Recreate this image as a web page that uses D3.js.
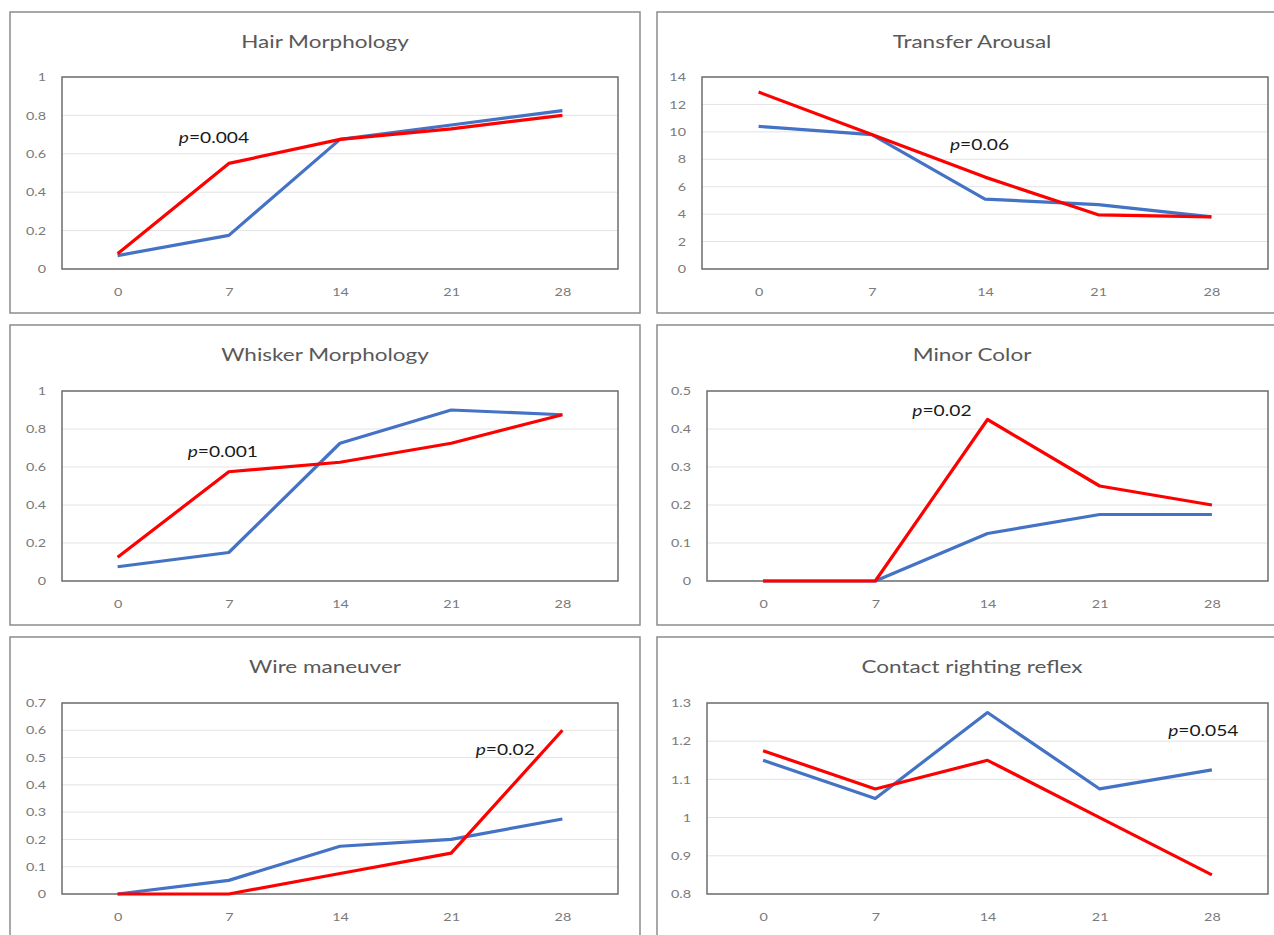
<!DOCTYPE html>
<html><head><meta charset="utf-8">
<script src="https://cdn.jsdelivr.net/npm/d3@7"></script>
<style>body{margin:0;background:#fff;overflow:hidden}</style>
</head><body>
<svg id="c" width="1274" height="935"></svg>
<script>
// ---- data ----
const days = ["0", "7", "14", "21", "28"];

const titles = ["Hair Morphology", "Transfer Arousal", "Whisker Morphology", "Minor Color", "Wire maneuver", "Contact righting reflex"];
const pLabels = ["0.004", "0.06", "0.001", "0.02", "0.02", "0.054"];

const hairRed   = [0.08, 0.55, 0.675, 0.73, 0.80];
const hairBlue  = [0.07, 0.175, 0.675, 0.75, 0.825];
const transRed  = [12.9, 9.8, 6.7, 3.95, 3.8];
const transBlue = [10.4, 9.8, 5.1, 4.7, 3.8];
const whiskRed  = [0.125, 0.575, 0.625, 0.725, 0.875];
const whiskBlue = [0.075, 0.15, 0.725, 0.9, 0.875];
const minorRed  = [0, 0, 0.425, 0.25, 0.2];
const minorBlue = [0, 0, 0.125, 0.175, 0.175];
const wireRed   = [0, 0, 0.075, 0.15, 0.6];
const wireBlue  = [0, 0.05, 0.175, 0.2, 0.275];
const crrRed    = [1.175, 1.075, 1.15, 1.0, 0.85];
const crrBlue   = [1.15, 1.05, 1.275, 1.075, 1.125];

const hairTicks  = [0, 0.2, 0.4, 0.6, 0.8, 1];
const transTicks = [0, 2, 4, 6, 8, 10, 12, 14];
const whiskTicks = [0, 0.2, 0.4, 0.6, 0.8, 1];
const minorTicks = [0, 0.1, 0.2, 0.3, 0.4, 0.5];
const wireTicks  = [0, 0.1, 0.2, 0.3, 0.4, 0.5, 0.6, 0.7];
const crrTicks   = [0.8, 0.9, 1, 1.1, 1.2, 1.3];

// ---- layout (positions only) ----
const layout = [
  {fx: 10, fy: 12, fw: 630, fh: 301, px: 62, py: 77, pw: 556, ph: 192, ax: 0.55, ay: 0.655},
  {fx: 657, fy: 12, fw: 640, fh: 301, px: 702, py: 77, pw: 566, ph: 192, ax: 1.69, ay: 8.7},
  {fx: 10, fy: 325, fw: 630, fh: 300, px: 62, py: 391, pw: 556, ph: 190, ax: 0.63, ay: 0.655},
  {fx: 657, fy: 325, fw: 640, fh: 300, px: 707, py: 391, pw: 561, ph: 190, ax: 1.33, ay: 0.434},
  {fx: 10, fy: 637, fw: 630, fh: 320, px: 62, py: 703, pw: 556, ph: 191, ax: 3.22, ay: 0.51},
  {fx: 657, fy: 637, fw: 640, fh: 320, px: 707, py: 703, pw: 561, ph: 191, ax: 3.61, ay: 1.213}
];

const series = [
  [hairRed, hairBlue, hairTicks],
  [transRed, transBlue, transTicks],
  [whiskRed, whiskBlue, whiskTicks],
  [minorRed, minorBlue, minorTicks],
  [wireRed, wireBlue, wireTicks],
  [crrRed, crrBlue, crrTicks]
];

const svg = d3.select("#c");
const FONT = "Lato, 'Open Sans', sans-serif";

// horizontally widen text (reference glyphs are wide)
function stretch(sel, sx) {
  sel.each(function () {
    const t = d3.select(this);
    const x = +t.attr("x") || 0, y = +t.attr("y") || 0;
    const prev = t.attr("transform") || "";
    t.attr("x", 0).attr("y", 0).attr("transform", `${prev} translate(${x},${y}) scale(${sx},1)`);
  });
}

series.forEach(([red, blue, ticks], i) => {
  const L = layout[i];
  const g = svg.append("g");
  g.append("rect").attr("x", L.fx).attr("y", L.fy).attr("width", L.fw).attr("height", L.fh)
    .attr("fill", "#fff").attr("stroke", "#8c8c8c").attr("stroke-width", 1.5);

  const title = g.append("text").attr("x", L.fx + L.fw / 2 - (i % 2 ? 5 : 0)).attr("y", L.fy + 36)
    .attr("text-anchor", "middle").attr("font-family", FONT).attr("font-size", 18)
    .attr("fill", "#595959").text(titles[i]);
  stretch(title, 1.25);

  const x = d3.scalePoint().domain(days).range([L.px, L.px + L.pw]).padding(0.5);
  const y = d3.scaleLinear().domain(d3.extent(ticks)).range([L.py + L.ph, L.py]);

  // gridlines
  g.append("g").selectAll("line").data(ticks).join("line")
    .attr("x1", L.px).attr("x2", L.px + L.pw)
    .attr("y1", d => y(d)).attr("y2", d => y(d))
    .attr("stroke", "#e3e3e3").attr("stroke-width", 1);

  // plot frame
  g.append("rect").attr("x", L.px).attr("y", L.py).attr("width", L.pw).attr("height", L.ph)
    .attr("fill", "none").attr("stroke", "#6e6e6e").attr("stroke-width", 1.5);

  // y axis labels
  const yAxis = d3.axisLeft(y).tickValues(ticks).tickSize(0).tickPadding(16).tickFormat(d => String(+d.toFixed(2)));
  const ya = g.append("g").attr("transform", `translate(${L.px},0)`).call(yAxis);
  ya.select(".domain").remove();
  ya.selectAll("text").attr("font-family", FONT).attr("font-size", 11.5).attr("fill", "#7a7a7a");
  stretch(ya.selectAll("text"), 1.25);

  // x axis labels
  const xAxis = d3.axisBottom(x).tickSize(0).tickPadding(19);
  const xa = g.append("g").attr("transform", `translate(0,${L.py + L.ph})`).call(xAxis);
  xa.select(".domain").remove();
  xa.selectAll("text").attr("font-family", FONT).attr("font-size", 11.5).attr("fill", "#7a7a7a");
  stretch(xa.selectAll("text"), 1.25);

  const line = d3.line().x((d, j) => x(days[j])).y(d => y(d));
  g.append("path").datum(blue).attr("d", line).attr("fill", "none")
    .attr("stroke", "#4472c4").attr("stroke-width", 3.2).attr("stroke-linejoin", "round");
  g.append("path").datum(red).attr("d", line).attr("fill", "none")
    .attr("stroke", "#ff0000").attr("stroke-width", 3.2).attr("stroke-linejoin", "round");

  // annotation
  const xs = d3.scaleLinear().domain([0, 4]).range([x(days[0]), x(days[4])]);
  const t = g.append("text").attr("x", xs(L.ax)).attr("y", y(L.ay))
    .attr("font-family", FONT).attr("font-size", 16).attr("fill", "#1a1a1a");
  t.append("tspan").attr("font-style", "italic").text("p");
  t.append("tspan").text("=" + pLabels[i]);
  stretch(t, 1.2);
});
</script>
</body></html>
